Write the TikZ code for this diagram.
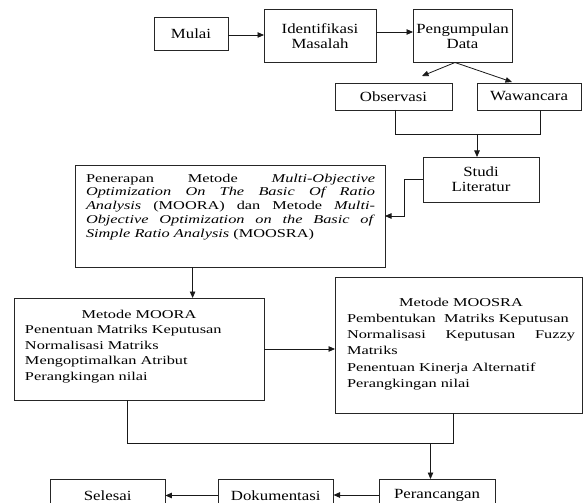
\documentclass[tikz,border=0pt]{standalone}
\usepackage{fontspec}
\setmainfont[FakeStretch=1.36]{Liberation Serif}
\newfontfamily\topfont[FakeStretch=1.2]{Liberation Serif}
\usetikzlibrary{arrows.meta}
\setlength{\lineskiplimit}{-20pt}
\begin{document}
\begin{tikzpicture}[x=1bp,y=-1bp,
  box/.style={draw=black!85, line width=0.8bp, inner sep=0pt, outer sep=0pt},
  topbox/.style={box, font=\topfont\fontsize{14bp}{15bp}\selectfont, align=center},
  bodytext/.style={inner sep=0pt, outer sep=0pt, font=\fontsize{12bp}{15.5bp}\selectfont},
  conn/.style={draw=black!90, line width=0.8bp},
  arr/.style={conn, -{Triangle[length=6.5bp,width=5.5bp]}}]
\clip (0,0) rectangle (583,503);
\fill[white] (0,0) rectangle (583,503);

% top row
\node[topbox, minimum width=74bp, minimum height=33bp] (mulai) at (191,33.5) {Mulai};
\node[topbox, minimum width=112bp, minimum height=53bp] (ident) at (320,36) {Identifikasi\\Masalah};
\node[topbox, minimum width=99bp, minimum height=53bp] (peng) at (462.5,36) {Pengumpulan\\Data};
\node[topbox, minimum width=117bp, minimum height=27bp] (obs) at (393.5,96.5) {Observasi};
\node[topbox, minimum width=104bp, minimum height=27bp] (waw) at (529,96.5) {Wawancara};
\node[topbox, minimum width=116bp, minimum height=45bp] (studi) at (481,179.5) {Studi\\Literatur};

% Penerapan box
\node[box, minimum width=310bp, minimum height=102bp] (pen) at (230,216) {};
\node[bodytext, text width=289bp, align=justify, anchor=north west,
  font=\fontsize{12bp}{13.75bp}\selectfont] (pentext) at (86,173.7)
  {Penerapan Metode \textit{Multi-Objective}\linebreak
   \textit{Optimization On The Basic Of Ratio}\linebreak
   \textit{Analysis} (MOORA) dan Metode \textit{Multi-}\linebreak
   \textit{Objective Optimization on the Basic of}\linebreak
   \textit{Simple Ratio Analysis} (MOOSRA)\par};

% MOORA box
\node[box, minimum width=250bp, minimum height=102bp] (moora) at (139,349) {};
\node[bodytext, text width=228bp, align=left, anchor=north] (mooratext) at (139,310)
  {{\centering Metode MOORA\par}
   Penentuan Matriks Keputusan\par
   Normalisasi Matriks\par
   Mengoptimalkan Atribut\par
   Perangkingan nilai\par};

% MOOSRA box
\node[box, minimum width=247bp, minimum height=136.5bp] (moosra) at (458.5,345.2) {};
\node[bodytext, text width=228bp, align=justify, anchor=north west,
  font=\fontsize{12bp}{16.2bp}\selectfont] (moosratext) at (347,298)
  {{\centering Metode MOOSRA\par}
   Pembentukan\ \ Matriks Keputusan\par
   Normalisasi Keputusan Fuzzy\linebreak Matriks\par
   Penentuan Kinerja Alternatif\par
   Perangkingan nilai\par};

% bottom row
\node[topbox, minimum width=116bp, minimum height=32bp] (perc) at (437,495) {Perancangan};
\node[topbox, minimum width=115.5bp, minimum height=32bp] (dok) at (275.75,495.5) {Dokumentasi};
\node[topbox, minimum width=115.4bp, minimum height=32bp] (selesai) at (107.7,495.5) {Selesai};

% connectors
\draw[arr] ([yshift=-1.5bp]mulai.east) -- ([yshift=-1.5bp]mulai.east -| ident.west);
\draw[arr] ([yshift=4bp]ident.east) -- ([yshift=4bp]ident.east -| peng.west);
\coordinate (tipL) at (422,76);
\coordinate (tipR) at (512,82);
\draw[arr] ([xshift=-7.5bp]peng.south) -- (tipL);
\draw[arr] ([xshift=-7.5bp]peng.south) -- (tipR);
\coordinate (jr) at (540,134);
\draw[conn] ([xshift=1.5bp]obs.south) |- (jr) -- (jr |- waw.south);
\draw[arr] ([xshift=-4bp]studi.north |- jr) -- ([xshift=-4bp]studi.north);
\draw[arr] (studi.west) -- ++(-19,0) |- (pen.east);
\draw[arr] ([xshift=-37.4bp]pen.south) -- ([xshift=-37.4bp]pen.south |- moora.north);
\draw[arr] (moora.east) -- (moora.east -| moosra.west);
\coordinate (jb) at (453.5,443.3);
\draw[conn] ([xshift=-11.5bp]moora.south) |- (jb) -- (jb |- moosra.south);
\draw[arr] ([xshift=-6.5bp]perc.north |- jb) -- ([xshift=-6.5bp]perc.north);
\draw[arr] (perc.west) -- (perc.west -| dok.east);
\draw[arr] (dok.west) -- (dok.west -| selesai.east);
\end{tikzpicture}
\end{document}
